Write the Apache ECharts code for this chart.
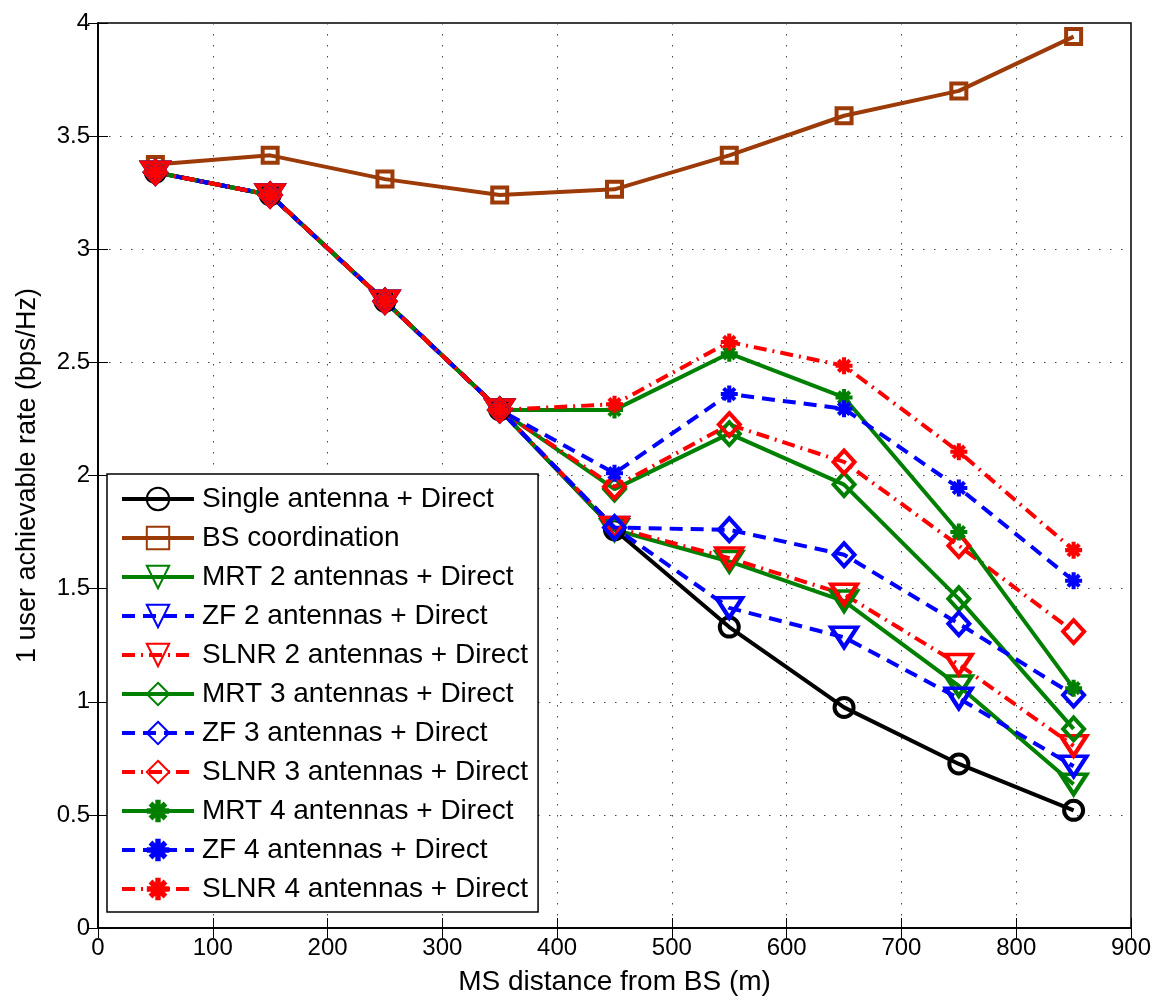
<!DOCTYPE html>
<html>
<head>
<meta charset="utf-8">
<script src="https://cdn.jsdelivr.net/npm/echarts@6/dist/echarts.min.js"></script>
<style>html,body{margin:0;padding:0;background:#fff}#c{width:1161px;height:1001px}</style>
</head>
<body>
<div id="c"></div>
<script>
const distances = [50, 150, 250, 350, 450, 550, 650, 750, 850];
const singleDirect = [3.34, 3.24, 2.77, 2.29, 1.76, 1.33, 0.975, 0.725, 0.52];
const bsCoord = [3.375, 3.415, 3.31, 3.24, 3.265, 3.415, 3.59, 3.70, 3.94];
const mrt2 = [3.34, 3.24, 2.77, 2.29, 1.76, 1.62, 1.445, 1.07, 0.635];
const zf2 = [3.34, 3.24, 2.77, 2.29, 1.77, 1.415, 1.285, 1.015, 0.715];
const slnr2 = [3.34, 3.24, 2.77, 2.29, 1.77, 1.635, 1.475, 1.165, 0.805];
const mrt3 = [3.34, 3.24, 2.77, 2.29, 1.94, 2.185, 1.96, 1.455, 0.88];
const zf3 = [3.34, 3.24, 2.77, 2.29, 1.77, 1.76, 1.65, 1.345, 1.03];
const slnr3 = [3.34, 3.24, 2.77, 2.29, 1.95, 2.225, 2.06, 1.69, 1.31];
const mrt4 = [3.34, 3.24, 2.77, 2.29, 2.29, 2.54, 2.345, 1.75, 1.06];
const zf4 = [3.34, 3.24, 2.77, 2.29, 2.01, 2.36, 2.295, 1.945, 1.535];
const slnr4 = [3.34, 3.24, 2.77, 2.29, 2.315, 2.59, 2.485, 2.105, 1.67];
const seriesNames = [
  'Single antenna + Direct', 'BS coordination',
  'MRT 2 antennas + Direct', 'ZF 2 antennas + Direct', 'SLNR 2 antennas + Direct',
  'MRT 3 antennas + Direct', 'ZF 3 antennas + Direct', 'SLNR 3 antennas + Direct',
  'MRT 4 antennas + Direct', 'ZF 4 antennas + Direct', 'SLNR 4 antennas + Direct'
];
const xTicks = [0, 900, 100];
const yTicks = [0, 4, 0.5];

const GREEN = '#008000', BLUE = '#0000ff', RED = '#ff0000', BROWN = '#9c3a08';
const SOLID = 'solid', DASH = [13, 8], DASHDOT = [13, 6, 2, 6];
const STAR = 'path://M-1.2,-5L1.2,-5L1.2,-1.2L5,-1.2L5,1.2L1.2,1.2L1.2,5L-1.2,5L-1.2,1.2L-5,1.2L-5,-1.2L-1.2,-1.2Z' +
  'M-2.5,-4.2L4.2,2.5L2.5,4.2L-4.2,-2.5Z M2.5,-4.2L4.2,-2.5L-2.5,4.2L-4.2,2.5Z';

function mk(name, vals, color, type, symbol, size, rotate, filled) {
  return {
    name: name, type: 'line',
    data: distances.map((d, i) => [d, vals[i]]),
    symbol: symbol, symbolSize: size, symbolRotate: rotate || 0,
    showSymbol: true,
    lineStyle: { color: color, width: 4, type: type },
    itemStyle: filled ? { color: color, borderWidth: 0 } : { color: 'rgba(255,255,255,0)', borderColor: color, borderWidth: 4 },
    emphasis: { disabled: true },
    animation: false
  };
}

const TRI = [26, 20];
const series = [
  mk(seriesNames[0], singleDirect, '#000', SOLID, 'circle', 19),
  mk(seriesNames[1], bsCoord, BROWN, SOLID, 'rect', 15),
  mk(seriesNames[2], mrt2, GREEN, SOLID, 'triangle', TRI, 180),
  mk(seriesNames[3], zf2, BLUE, DASH, 'triangle', TRI, 180),
  mk(seriesNames[4], slnr2, RED, DASHDOT, 'triangle', TRI, 180),
  mk(seriesNames[5], mrt3, GREEN, SOLID, 'diamond', [21, 23]),
  mk(seriesNames[6], zf3, BLUE, DASH, 'diamond', [21, 23]),
  mk(seriesNames[7], slnr3, RED, DASHDOT, 'diamond', [21, 23]),
  mk(seriesNames[8], mrt4, GREEN, SOLID, STAR, 17, 0, true),
  mk(seriesNames[9], zf4, BLUE, DASH, STAR, 17, 0, true),
  mk(seriesNames[10], slnr4, RED, DASHDOT, STAR, 17, 0, true)
];

const FONT = 'Liberation Sans, Arial, Helvetica, sans-serif';
const gridLine = { show: true, lineStyle: { color: '#444', width: 1, type: [1.5, 9.5] } };
const chart = echarts.init(document.getElementById('c'), null, { renderer: 'canvas' });
chart.setOption({
  backgroundColor: '#fff',
  animation: false,
  grid: { left: 98, right: 30, top: 23, bottom: 70, show: true, borderColor: '#000', borderWidth: 1.5, containLabel: false },
  xAxis: [{
    type: 'value', min: xTicks[0], max: xTicks[1], interval: xTicks[2],
    name: 'MS distance from BS (m)', nameLocation: 'middle', nameGap: 40,
    nameTextStyle: { fontFamily: FONT, fontSize: 28, color: '#000' },
    axisLine: { show: true, lineStyle: { color: '#000', width: 1.5 } },
    axisTick: { show: true, inside: true, length: 10, lineStyle: { color: '#000' } },
    axisLabel: { fontFamily: FONT, fontSize: 24, color: '#000', margin: 8 },
    splitLine: gridLine
  }, {
    type: 'value', position: 'top', min: xTicks[0], max: xTicks[1], interval: xTicks[2],
    axisLine: { show: true, lineStyle: { color: '#000', width: 1.5 } },
    axisTick: { show: true, inside: true, length: 10, lineStyle: { color: '#000' } },
    axisLabel: { show: false }, splitLine: { show: false }
  }],
  yAxis: [{
    type: 'value', min: yTicks[0], max: yTicks[1], interval: yTicks[2],
    name: '1 user achievable rate (bps/Hz)', nameLocation: 'middle', nameGap: 57,
    nameTextStyle: { fontFamily: FONT, fontSize: 27, color: '#000' },
    axisLine: { show: true, lineStyle: { color: '#000', width: 1.5 } },
    axisTick: { show: true, inside: true, length: 10, lineStyle: { color: '#000' } },
    axisLabel: { fontFamily: FONT, fontSize: 24, color: '#000', margin: 8 },
    splitLine: gridLine
  }, {
    type: 'value', position: 'right', min: yTicks[0], max: yTicks[1], interval: yTicks[2],
    axisLine: { show: true, lineStyle: { color: '#000', width: 1.5 } },
    axisTick: { show: true, inside: true, length: 10, lineStyle: { color: '#000' } },
    axisLabel: { show: false }, splitLine: { show: false }
  }],
  legend: {
    orient: 'vertical', left: 107, top: 474,
    data: seriesNames,
    backgroundColor: '#fff', borderColor: '#000', borderWidth: 1.5,
    padding: [10, 10, 8, 13],
    itemWidth: 72, itemHeight: 28, itemGap: 9,
    lineStyle: { width: 4 },
    textStyle: { fontFamily: FONT, fontSize: 28, color: '#000', lineHeight: 30, padding: [0, 0, 0, 3] },
    selectedMode: false
  },
  series: series
});
</script>
</body>
</html>
